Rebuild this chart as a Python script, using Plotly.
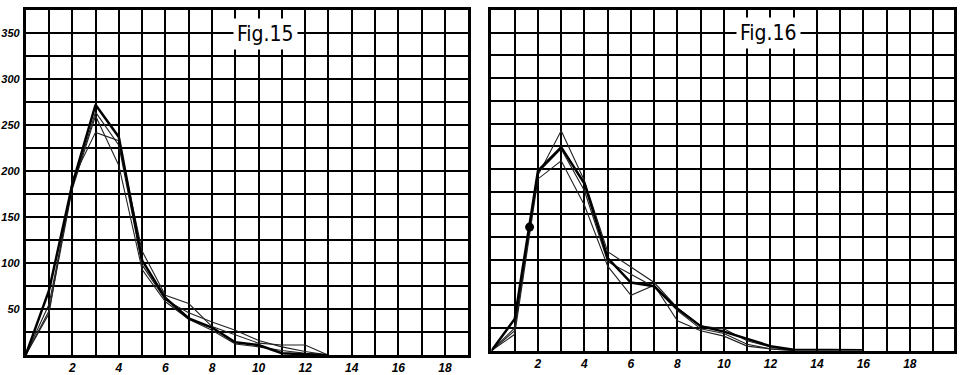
import plotly.graph_objects as go

# ---------------- data ----------------
x_left = list(range(0, 14))
fig15_a = [0, 70, 185, 272, 237, 103, 62, 40, 30, 14, 11, 2, 1, 0]   # heavy line
fig15_b = [0, 55, 182, 264, 228, 98, 60, 46, 36, 27, 16, 9, 4, 0]
fig15_c = [0, 48, 180, 260, 206, 93, 58, 39, 27, 12, 9, 5, 2, 0]
fig15_d = [0, 45, 190, 242, 233, 113, 65, 56, 31, 22, 13, 11, 11, 0]

x_right_a = list(range(0, 17))
fig16_a = [0, 35, 198, 224, 184, 102, 75, 71, 46, 27, 21, 13, 5, 1, 1, 1, 0.5]  # heavy line
x_right = list(range(0, 14))
fig16_b = [0, 25, 193, 242, 187, 109, 92, 75, 47, 27, 24, 11, 4, 0]
fig16_c = [0, 22, 196, 222, 176, 98, 84, 70, 44, 24, 19, 7, 2, 0]
fig16_d = [0, 18, 189, 209, 160, 93, 61, 72, 33, 22, 16, 5, 2, 0]

dot16_x = [1.64]
dot16_y = [136]

x_grid = list(range(0, 20))
x_labels = [str(v) if v % 2 == 0 and v > 0 else "" for v in x_grid]
y_grid = list(range(0, 376, 25))
y_labels = [str(v) if v % 50 == 0 and v > 0 else "" for v in y_grid]

titles = ["Fig.15", "Fig.16"]

# ---------------- figure ----------------
fig = go.Figure()

thin = dict(color="#222222", width=1.1)
thick = dict(color="#000000", width=2.5)

for ys in (fig15_b, fig15_c, fig15_d):
    fig.add_trace(go.Scatter(x=x_left, y=ys, mode="lines", line=thin,
                             xaxis="x", yaxis="y", showlegend=False))
fig.add_trace(go.Scatter(x=x_left, y=fig15_a, mode="lines", line=thick,
                         xaxis="x", yaxis="y", showlegend=False))

for ys in (fig16_b, fig16_c, fig16_d):
    fig.add_trace(go.Scatter(x=x_right, y=ys, mode="lines", line=thin,
                             xaxis="x2", yaxis="y2", showlegend=False))
fig.add_trace(go.Scatter(x=x_right_a, y=fig16_a, mode="lines", line=thick,
                         xaxis="x2", yaxis="y2", showlegend=False))
fig.add_trace(go.Scatter(x=dot16_x, y=dot16_y, mode="markers",
                         marker=dict(color="black", size=9),
                         xaxis="x2", yaxis="y2", showlegend=False))

tick_font = dict(family="Liberation Sans", size=12, color="black",
                 style="italic", weight="bold")

common_x = dict(tickmode="array", tickvals=x_grid, ticktext=x_labels,
                showgrid=True, gridcolor="black", gridwidth=1.8,
                showline=True, linecolor="black", linewidth=2.6, mirror=True,
                zeroline=False, ticks="", tickfont=tick_font, fixedrange=True)
common_y = dict(tickmode="array", tickvals=y_grid,
                showgrid=True, gridcolor="black", gridwidth=1.8,
                showline=True, linecolor="black", linewidth=2.6, mirror=True,
                zeroline=False, ticks="", range=[0, 375], fixedrange=True)

fig.update_layout(
    width=960, height=375,
    margin=dict(l=0, r=0, t=0, b=0),
    paper_bgcolor="white", plot_bgcolor="white",
    xaxis=dict(common_x, domain=[22.7 / 960, 466.7 / 960], range=[0, 19],
               anchor="y"),
    yaxis=dict(common_y, domain=[(375 - 358) / 375, (375 - 10) / 375],
               ticktext=y_labels, showticklabels=True,
               tickfont=dict(tick_font, size=11), ticklabelstandoff=1,
               anchor="x"),
    xaxis2=dict(common_x, domain=[490 / 960, 954 / 960], range=[0, 19.9],
                anchor="y2"),
    yaxis2=dict(common_y, domain=[(375 - 353.5) / 375, (375 - 10) / 375],
                ticktext=[""] * len(y_grid), showticklabels=False,
                anchor="x2"),
)

title_font = dict(family="DejaVu Sans Condensed, Liberation Sans Narrow, DejaVu Sans",
                  size=21, color="black")
fig.add_annotation(text=titles[0], xref="x", yref="y", x=10.3, y=349,
                   showarrow=False, bgcolor="white", borderpad=3,
                   font=title_font)
fig.add_annotation(text=titles[1], xref="x2", yref="y2", x=11.9, y=350,
                   showarrow=False, bgcolor="white", borderpad=3,
                   font=title_font)

fig.write_html("out.html")
